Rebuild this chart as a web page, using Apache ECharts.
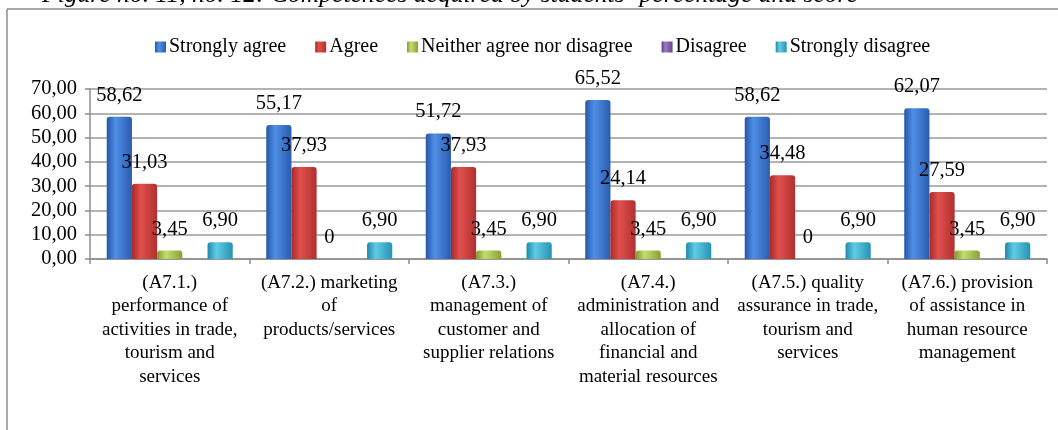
<!DOCTYPE html>
<html>
<head>
<meta charset="utf-8">
<script src="https://cdn.jsdelivr.net/npm/echarts@6/dist/echarts.min.js"></script>
<style>
html,body{margin:0;padding:0;background:#fff;}
#c{width:1058px;height:430px;}
</style>
</head>
<body>
<div id="c"></div>
<script>
const titleText = 'Figure no. 11, no. 12: Competences acquired by students\u2019 percentage and score';
const categories = [
  '(A7.1.)\nperformance of\nactivities in trade,\ntourism and\nservices',
  '(A7.2.) marketing\nof\nproducts/services',
  '(A7.3.)\nmanagement of\ncustomer and\nsupplier relations',
  '(A7.4.)\nadministration and\nallocation of\nfinancial and\nmaterial resources',
  '(A7.5.) quality\nassurance in trade,\ntourism and\nservices',
  '(A7.6.) provision\nof assistance in\nhuman resource\nmanagement'
];
const seriesNames = ['Strongly agree', 'Agree', 'Neither agree nor disagree', 'Disagree', 'Strongly disagree'];
const stronglyAgree = [58.62, 55.17, 51.72, 65.52, 58.62, 62.07];
const agree = [31.03, 37.93, 37.93, 24.14, 34.48, 27.59];
const neither = [3.45, 0, 3.45, 3.45, 0, 3.45];
const disagree = [null, null, null, null, null, null];
const stronglyDisagree = [6.90, 6.90, 6.90, 6.90, 6.90, 6.90];
const yTicks = [0, 10, 20, 30, 40, 50, 60, 70];

const palette = [
  ['#2456a8', '#4f8fe6', '#2a5cb0'],
  ['#a82a28', '#e0504c', '#b03030'],
  ['#7d9a2e', '#c4dc6e', '#86a335'],
  ['#5b3f86', '#9a7cc4', '#634690'],
  ['#1f8aa8', '#5fcbe6', '#2793b2']
];
function grad(c) {
  return new echarts.graphic.LinearGradient(0, 0, 1, 0, [
    {offset: 0, color: c[0]}, {offset: 0.35, color: c[1]}, {offset: 1, color: c[2]}
  ]);
}
const FONT = 'Liberation Serif';
function fmt(v) {
  if (v === 0) return '0';
  return v.toFixed(2).replace('.', ',');
}
const dataSets = [stronglyAgree, agree, neither, disagree, stronglyDisagree];

const chart = echarts.init(document.getElementById('c'), null, {renderer: 'canvas'});
chart.setOption({
  animation: false,
  backgroundColor: '#fff',
  graphic: [
    {type: 'text', left: 42, top: -18, style: {text: titleText, font: 'italic 25.6px "Liberation Serif"', fill: '#000'}},
    {type: 'line', shape: {x1: 7, y1: 9, x2: 1058, y2: 9}, style: {stroke: '#8c8c8c', lineWidth: 1.5}},
    {type: 'line', shape: {x1: 7, y1: 9, x2: 7, y2: 430}, style: {stroke: '#8c8c8c', lineWidth: 1.5}}
  ],
  legend: {
    top: 32, left: 150,
    itemWidth: 11, itemHeight: 11, itemGap: 29,
    icon: 'rect',
    textStyle: {fontFamily: FONT, fontSize: 20, color: '#000', padding: [0, 0, 0, -2]},
    data: seriesNames
  },
  grid: {left: 90, right: 11, top: 89, bottom: 171, containLabel: false},
  xAxis: {
    type: 'category', data: categories,
    axisLine: {lineStyle: {color: '#8c8c8c', width: 1.5}},
    axisTick: {show: true, length: 5, lineStyle: {color: '#8c8c8c', width: 1.5}},
    axisLabel: {fontFamily: FONT, fontSize: 19, color: '#000', lineHeight: 23.5, margin: 12, interval: 0, align: 'center'}
  },
  yAxis: {
    type: 'value', min: 0, max: 70, interval: 10,
    axisLine: {show: true, lineStyle: {color: '#8c8c8c', width: 1.5}},
    axisTick: {show: true, length: 5, lineStyle: {color: '#8c8c8c', width: 1.5}},
    axisLabel: {fontFamily: FONT, fontSize: 20.5, color: '#000', margin: 13,
      formatter: v => yTicks.includes(v) ? v.toFixed(2).replace('.', ',') : ''},
    splitLine: {lineStyle: {color: '#9a9a9a', width: 1.5}}
  },
  series: seriesNames.map((n, i) => ({
    name: n, type: 'bar', data: dataSets[i],
    barGap: '0%', barCategoryGap: '21%',
    itemStyle: {color: grad(palette[i]), borderRadius: [3, 3, 0, 0]},
    label: {show: true, position: 'top', distance: 11, fontFamily: FONT, fontSize: 20.5, color: '#000',
      formatter: p => (p.value === null || p.value === undefined) ? '' : fmt(p.value)}
  }))
});
</script>
</body>
</html>
